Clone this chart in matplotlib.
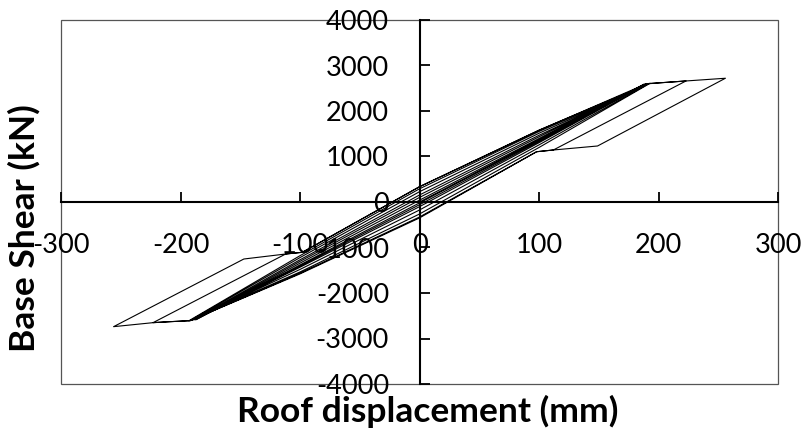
import matplotlib
matplotlib.use("Agg")
import matplotlib.pyplot as plt
from matplotlib.patches import Rectangle

# Roof displacement (mm) / base shear (kN) vertices
disp_band = [0, 100, 188,
             100, 0, -100, -187,
             -100, 0, 100, 189,
             100, 0, -100, -188,
             -100, 0, 100, 190,
             100, 0, -100, -190,
             -100, 0, 100, 192,
             100, 0, -100, -192,
             -100, 0, 100, 193,
             100, 0, -100, -193,
             -100, 0, 100, 192]
shear_band = [0, 1370, 2590,
              1357, -20, -1383, -2588,
              -1344, 40, 1395, 2595,
              1331, -60, -1408, -2592,
              -1305, 100, 1432, 2600,
              1303, -103, -1434, -2600,
              -1270, 154, 1466, 2605,
              1255, -176, -1482, -2608,
              -1222, 226, 1511, 2610,
              1198, -264, -1538, -2610,
              -1180, 290, 1550, 2605]

disp_large = [210, 223, 112, 98, 0, -100, -192, -210, -223,
              -112, -98, 0, 100, 192, 210, 223, 256,
              149, 112, 98, 0, -100, -192, -210, -223, -256,
              -147, -112, -98, 0, 100, 190]
shear_large = [2635, 2660, 1143, 1105, -330, -1565, -2608, -2632, -2652,
               -1143, -1105, 336, 1580, 2600, 2637, 2660, 2720,
               1231, 1143, 1105, -350, -1580, -2608, -2632, -2652, -2740,
               -1253, -1143, -1105, 336, 1575, 2600]

x_ticks = [-300, -200, -100, 0, 100, 200, 300]
y_ticks = [-4000, -3000, -2000, -1000, 0, 1000, 2000, 3000, 4000]
x_label = "Roof displacement (mm)"
y_label = "Base Shear (kN)"

plt.rcParams['font.family'] = ['Lato', 'DejaVu Sans']

fig = plt.figure(figsize=(8.05, 4.37), dpi=100)
ax = fig.add_axes([61/805, 1 - 384/437, 717/805, 364/437])

ax.plot(disp_band + disp_large, shear_band + shear_large, color='black', lw=0.8)

ax.set_xlim(-300, 300)
ax.set_ylim(-4000, 4000)
ax.set_xticks(x_ticks)
ax.set_yticks(y_ticks)
ax.set_xticklabels([str(v) for v in x_ticks])
ax.set_yticklabels([str(v) for v in y_ticks])

ax.spines['left'].set_position(('data', 0))
ax.spines['bottom'].set_position(('data', 0))
ax.spines['top'].set_visible(False)
ax.spines['right'].set_visible(False)
for s in ('left', 'bottom'):
    ax.spines[s].set_linewidth(1.5)
    ax.spines[s].set_color('black')

ax.tick_params(axis='both', direction='in', length=7, width=1.3,
               labelsize=19.5, pad=22, colors='black')
ax.set_facecolor('white')

ax.add_patch(Rectangle((0, 0), 1, 1, transform=ax.transAxes, fill=False,
                       edgecolor='#555555', lw=0.9, clip_on=False, zorder=0))

fig.text(428/805, 1 - 411/437, x_label, ha='center', va='center',
         fontsize=25.5, fontweight='bold')
fig.text(24/805, 1 - 228/437, y_label, ha='center', va='center',
         rotation=90, fontsize=25.5, fontweight='bold')

fig.savefig('out.png', dpi=100)
